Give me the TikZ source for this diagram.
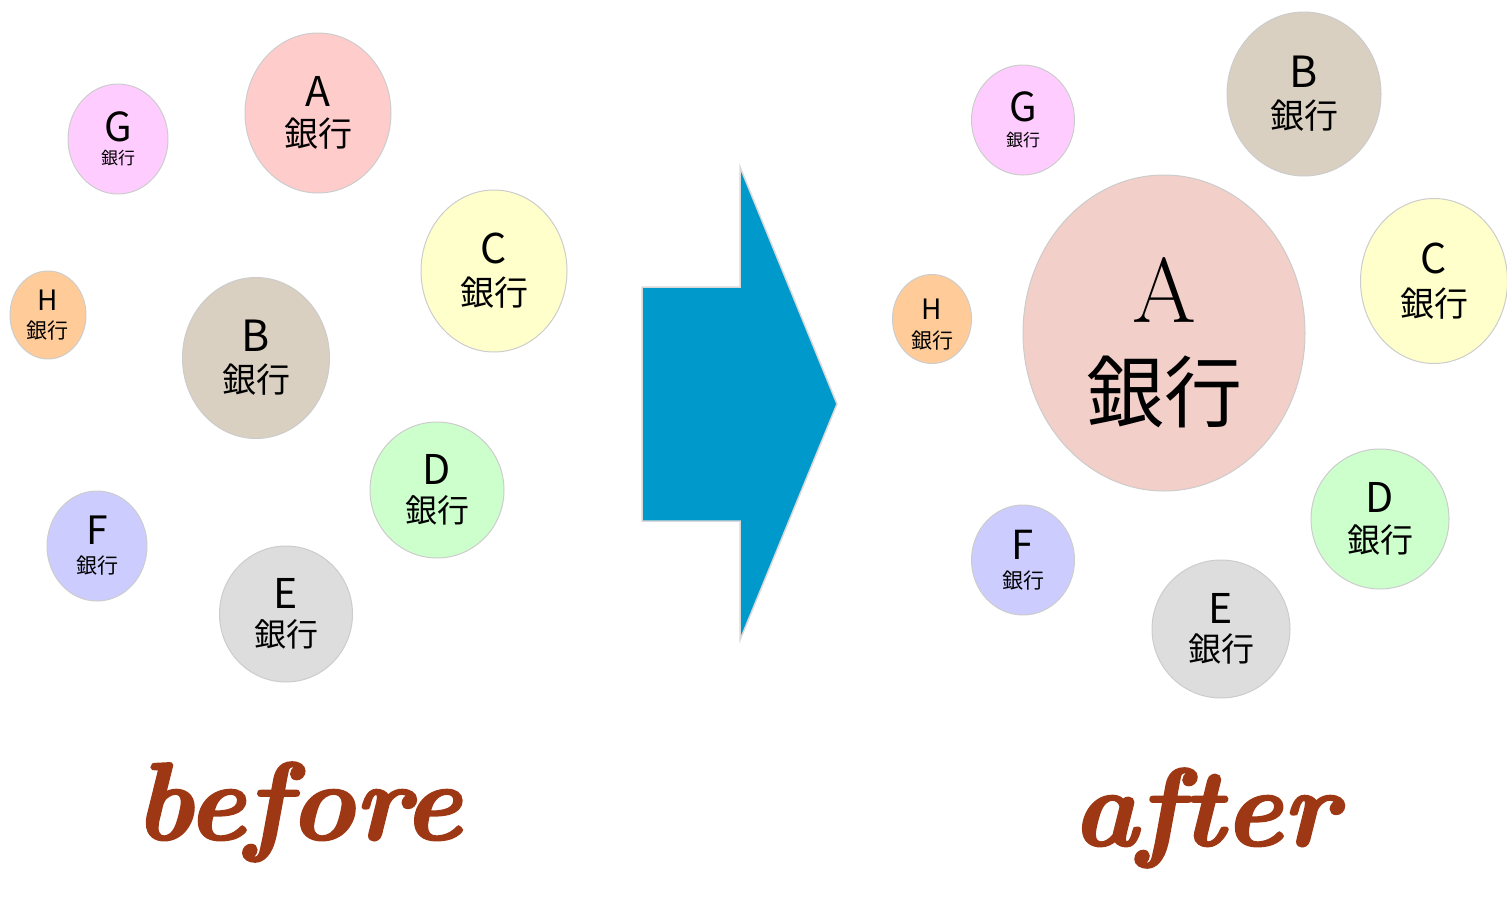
\documentclass[tikz,border=0pt]{standalone}
\usepackage{fontspec}
\usetikzlibrary{shapes.geometric}
\newfontfamily\jp{Noto Sans CJK JP}
\newfontfamily\brushfont[FakeBold=2]{lmroman10-bolditalic.otf}
\definecolor{arrowblue}{RGB}{0,153,204}
\definecolor{brush}{RGB}{158,55,19}
\definecolor{pinkA}{RGB}{255,204,204}
\definecolor{pinkAA}{RGB}{242,207,200}
\definecolor{tanB}{RGB}{217,208,193}
\definecolor{yelC}{RGB}{255,255,204}
\definecolor{grnD}{RGB}{204,255,204}
\definecolor{gryE}{RGB}{221,221,221}
\definecolor{bluF}{RGB}{204,204,255}
\definecolor{vioG}{RGB}{255,204,255}
\definecolor{orgH}{RGB}{255,204,153}
\tikzset{
  bank/.style={ellipse, draw=black!20, line width=1pt, inner sep=0pt, align=center, text centered},
  kanji/.style 2 args={font=\jp\fontsize{#1}{#2}\selectfont},
  label/.style={text=brush, font=\fontsize{110}{110}\selectfont\brushfont}
}
% letter size, letter
\newcommand{\bankname}[2]{{\fontsize{#1}{#1}\selectfont #2}\\銀行}

\begin{document}
\begin{tikzpicture}[x=1pt, y=-1pt]
        \useasboundingbox (0,0) rectangle (1507,902);

        % before %
        \node[bank, kanji={17}{23}, fill=vioG, minimum width=100, minimum height=110] (bG) at (118,139) {\bankname{40}{G}};
        \node[bank, kanji={34}{40}, fill=pinkA, minimum width=146, minimum height=160] (bA) at (318,113) {\bankname{41}{A}};
        \node[bank, kanji={34}{42}, fill=yelC, minimum width=146, minimum height=162] (bC) at (494,271) {\bankname{41}{C}};
        \node[bank, kanji={21}{28}, fill=orgH, minimum width=76, minimum height=88] (bH) at (48,315) {\bankname{28}{H}};
        \node[bank, kanji={34}{41}, fill=tanB, minimum width=147, minimum height=161] (bB) at (256,358) {\bankname{43}{B}};
        \node[bank, kanji={32}{38}, fill=grnD, minimum width=134, minimum height=136] (bD) at (437,490) {\bankname{41}{D}};
        \node[bank, kanji={21}{29}, fill=bluF, minimum width=100, minimum height=110] (bF) at (97,546) {\bankname{39}{F}};
        \node[bank, kanji={32}{38}, fill=gryE, minimum width=133, minimum height=136] (bE) at (286,614) {\bankname{41}{E}};

        % arrow %
        \filldraw[fill=arrowblue, draw=black!15, line width=1.5pt]
          (642,287) -- (740,287) -- (740,167) -- (837,404) -- (740,640) -- (740,521) -- (642,521) -- cycle;

        % after %
        \node[bank, kanji={17}{25}, fill=vioG, minimum width=103, minimum height=110] (aG) at (1023,120) {\bankname{40}{G}};
        \node[bank, kanji={34}{41}, fill=tanB, minimum width=154, minimum height=164] (aB) at (1304,94) {\bankname{43}{B}};
        \node[bank, kanji={78}{99}, fill=pinkAA, minimum width=282, minimum height=316] (aA) at (1164,333)
          {{\rmfamily\fontsize{92}{92}\selectfont\rule{0pt}{84pt}A}\\銀行};
        \node[bank, kanji={34}{43}, fill=yelC, minimum width=147, minimum height=165] (aC) at (1434,281) {\bankname{41}{C}};
        \node[bank, kanji={21}{29}, fill=orgH, minimum width=79, minimum height=89] (aH) at (932,319) {\bankname{28}{\rule{0pt}{32pt}H}};
        \node[bank, kanji={33}{40}, fill=grnD, minimum width=138, minimum height=140] (aD) at (1380,519) {\bankname{41}{D}};
        \node[bank, kanji={21}{29}, fill=bluF, minimum width=103, minimum height=110] (aF) at (1023,560) {\bankname{40}{F}};
        \node[bank, kanji={33}{38}, fill=gryE, minimum width=138, minimum height=138] (aE) at (1221,629) {\bankname{41}{E}};

        % labels %
        \node[label] (before) at (298,812) {before};
        \node[label] (after) at (1205,818) {after};
\end{tikzpicture}
\end{document}
